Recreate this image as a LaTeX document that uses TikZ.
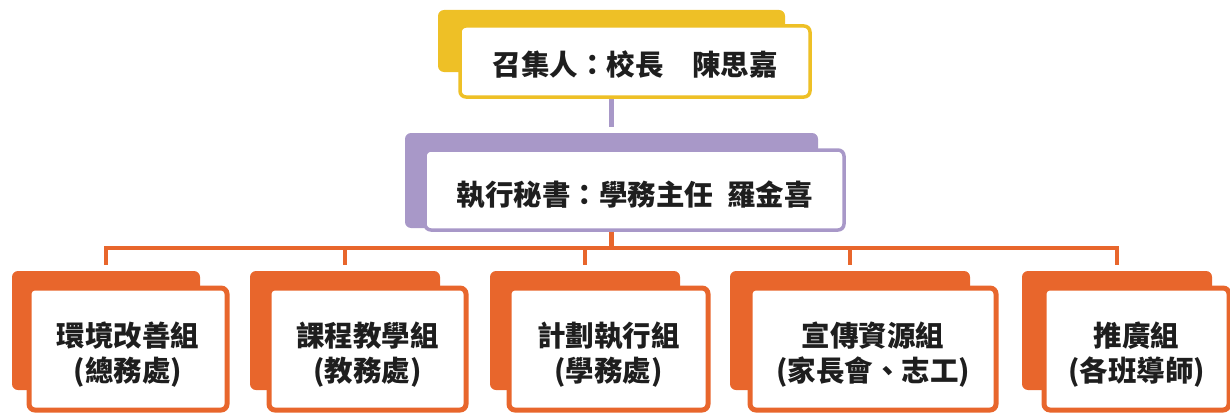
\documentclass[tikz,border=0pt]{standalone}
\usepackage{fontspec}
\newfontfamily\cjk{Noto Sans CJK TC}
\usetikzlibrary{backgrounds}
\definecolor{yel}{RGB}{238,192,38}
\definecolor{purp}{RGB}{168,152,200}
\definecolor{orng}{RGB}{232,102,44}
\definecolor{ink}{RGB}{30,30,30}
\tikzset{
  backbox/.style={fill=#1, rounded corners=6pt, inner sep=0pt},
  frontbox/.style={draw=#1, fill=white, rounded corners=6pt, inner sep=0pt},
  title/.style={font=\cjk\bfseries\fontsize{28.5}{35}\selectfont, text=ink, align=center, inner sep=0pt},
  link/.style={draw=#1, line width=4.5pt},
}
\begin{document}
\begin{tikzpicture}[x=1pt, y=-1pt]
  \useasboundingbox (0,0) rectangle (1230,412);
  % convener
  \node[backbox=yel, minimum width=347pt, minimum height=62pt] (yb) at (611.5,41) {};
  \node[frontbox=yel, line width=3.5pt, minimum width=350pt, minimum height=71pt] (yf) at (635,61.5) {};
  \node[title] (yt) at ([yshift=-3.5pt]yf.center) {召集人：校長　陳思嘉};
  % secretary
  \node[backbox=purp, minimum width=413pt, minimum height=95pt] (pb) at (611.5,180.5) {};
  \node[frontbox=purp, line width=3.5pt, minimum width=419pt, minimum height=80pt] (pf) at (634.5,190) {};
  \node[title] (pt) at ([yshift=-5pt]pf.center) {執行秘書：學務主任\hspace{14pt}羅金喜};
  % groups
  \foreach \i/\bx/\bw/\fx/\fw/\txt in {
      1/106/188/128/198/{環境改善組\\(總務處)},
      2/345/190/367.5/197/{課程教學組\\(教務處)},
      3/585/190/608.5/199/{計劃執行組\\(學務處)},
      4/850/240/873/246/{宣傳資源組\\(家長會、志工)},
      5/1117/190/1136.5/185/{推廣組\\(各班導師)}} {
    \node[backbox=orng, minimum width=\bw pt, minimum height=119pt] (ob\i) at (\bx,330.5) {};
    \node[frontbox=orng, line width=5pt, minimum width=\fw pt, minimum height=122pt] (of\i) at (\fx,349) {};
    \node[title] (ot\i) at ([yshift=-5.5pt]of\i.center) {\txt};
  }
  \coordinate (bar) at (0,248);
  \begin{scope}[on background layer]
    \draw[link=purp] (yb.north |- yf.south) -- ([yshift=6pt]pb.north);
    \draw[link=orng] (pb.north |- pf.south) -- (pb.north |- bar);
    \draw[link=orng] ([yshift=6pt]ob1.north) -- (ob1.north |- bar) -- (ob5.north |- bar) -- ([yshift=6pt]ob5.north);
    \foreach \i in {2,3,4}
      \draw[link=orng] (ob\i.north |- bar) -- ([yshift=6pt]ob\i.north);
  \end{scope}
\end{tikzpicture}
\end{document}
